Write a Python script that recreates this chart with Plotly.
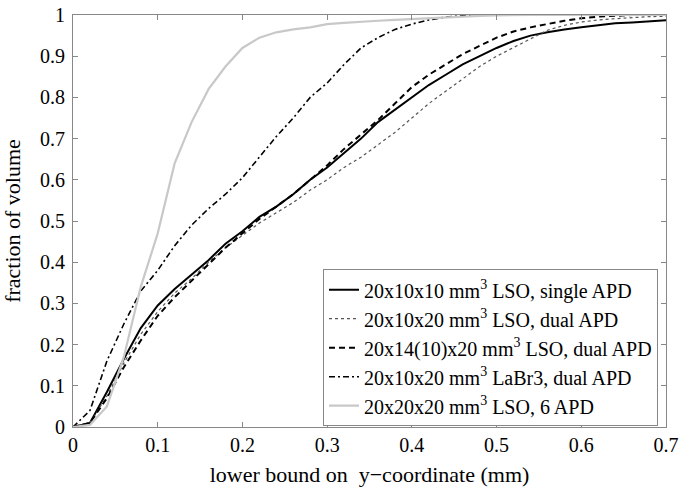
import plotly.graph_objects as go

x_vals = [0.00, 0.02, 0.04, 0.06, 0.08, 0.10, 0.12, 0.14, 0.16, 0.18,
          0.20, 0.22, 0.24, 0.26, 0.28, 0.30, 0.32, 0.34, 0.36, 0.38,
          0.40, 0.42, 0.44, 0.46, 0.48, 0.50, 0.52, 0.54, 0.56, 0.58,
          0.60, 0.62, 0.64, 0.66, 0.68, 0.70]

single_apd = [0.000, 0.010, 0.085, 0.165, 0.240, 0.295, 0.335, 0.370, 0.405, 0.445,
              0.475, 0.510, 0.535, 0.565, 0.600, 0.630, 0.665, 0.700, 0.740, 0.770,
              0.800, 0.830, 0.855, 0.880, 0.900, 0.920, 0.937, 0.950, 0.958, 0.965,
              0.970, 0.975, 0.980, 0.982, 0.985, 0.987]

dual_apd = [0.000, 0.010, 0.075, 0.155, 0.225, 0.280, 0.325, 0.360, 0.400, 0.435,
            0.465, 0.495, 0.520, 0.545, 0.575, 0.600, 0.630, 0.655, 0.685, 0.715,
            0.750, 0.785, 0.815, 0.845, 0.875, 0.900, 0.920, 0.942, 0.963, 0.975,
            0.983, 0.988, 0.991, 0.994, 0.996, 0.997]

dual_apd_14 = [0.000, 0.010, 0.070, 0.145, 0.210, 0.270, 0.315, 0.355, 0.395, 0.435,
               0.470, 0.505, 0.535, 0.565, 0.600, 0.635, 0.675, 0.710, 0.745, 0.785,
               0.825, 0.855, 0.880, 0.905, 0.925, 0.945, 0.960, 0.970, 0.978, 0.986,
               0.992, 0.996, 0.998, 1.000, 1.000, 1.000]

labr3 = [0.000, 0.040, 0.160, 0.250, 0.330, 0.380, 0.440, 0.490, 0.530, 0.565,
         0.605, 0.655, 0.705, 0.750, 0.800, 0.835, 0.880, 0.920, 0.945, 0.965,
         0.978, 0.988, 0.995, 0.998, 1.000, 1.000, 1.000, 1.000, 1.000, 1.000,
         1.000, 1.000, 1.000, 1.000, 1.000, 1.000]

six_apd = [0.000, 0.005, 0.050, 0.170, 0.340, 0.470, 0.640, 0.740, 0.820, 0.875,
           0.920, 0.945, 0.958, 0.965, 0.970, 0.978, 0.981, 0.984, 0.986, 0.988,
           0.990, 0.992, 0.995, 0.997, 0.998, 0.999, 1.000, 1.000, 1.000, 1.000,
           1.000, 1.000, 1.000, 1.000, 1.000, 1.000]

names = [
    "20x10x10 mm<sup>3</sup> LSO, single APD",
    "20x10x20 mm<sup>3</sup> LSO, dual APD",
    "20x14(10)x20 mm<sup>3</sup> LSO, dual APD",
    "20x10x20 mm<sup>3</sup> LaBr3, dual APD",
    "20x20x20 mm<sup>3</sup> LSO, 6 APD",
]

x_ticks = [0, 0.1, 0.2, 0.3, 0.4, 0.5, 0.6, 0.7]
y_ticks = [0, 0.1, 0.2, 0.3, 0.4, 0.5, 0.6, 0.7, 0.8, 0.9, 1]

series = [single_apd, dual_apd, dual_apd_14, labr3, six_apd]
styles = [
    dict(color="black", width=2, dash="solid"),
    dict(color="#555555", width=1.2, dash="dot"),
    dict(color="black", width=2, dash="6px,4px"),
    dict(color="black", width=1.6, dash="6px,3px,2px,3px"),
    dict(color="#c8c8c8", width=2.2, dash="solid"),
]

fig = go.Figure()
for name, ys, st in zip(names, series, styles):
    fig.add_trace(go.Scatter(x=x_vals, y=ys, mode="lines", name=name, line=st))

font_family = "Liberation Serif"
axis_common = dict(
    showgrid=False, zeroline=False, showline=True, linecolor="#888888", linewidth=1,
    mirror="ticks", ticks="inside", ticklen=5, tickcolor="#888888", automargin=False,
    tickfont=dict(family=font_family, size=20, color="black"),
)

fig.update_layout(
    width=679, height=487,
    paper_bgcolor="white", plot_bgcolor="white",
    margin=dict(l=73, r=13, t=15, b=60, autoexpand=False),
    font=dict(family=font_family, size=20, color="black"),
    xaxis=dict(range=[0, 0.7], tickvals=x_ticks, title=dict(
        text="lower bound on\u00a0 y\u2212coordinate (mm)",
        font=dict(family=font_family, size=22)), **axis_common),
    yaxis=dict(range=[0, 1], tickvals=y_ticks, ticklabelstandoff=3, title=dict(
        text="fraction of volume", font=dict(family=font_family, size=22)),
        **axis_common),
    legend=dict(x=0.4216, y=0.383, xanchor="left", yanchor="top",
                bgcolor="white", bordercolor="#888888", borderwidth=1,
                font=dict(family=font_family, size=20), tracegroupgap=0,
                itemwidth=30),
    showlegend=True,
)

fig.write_html("out.html", config={"displayModeBar": False},
               post_script="document.body.style.margin='0';")
